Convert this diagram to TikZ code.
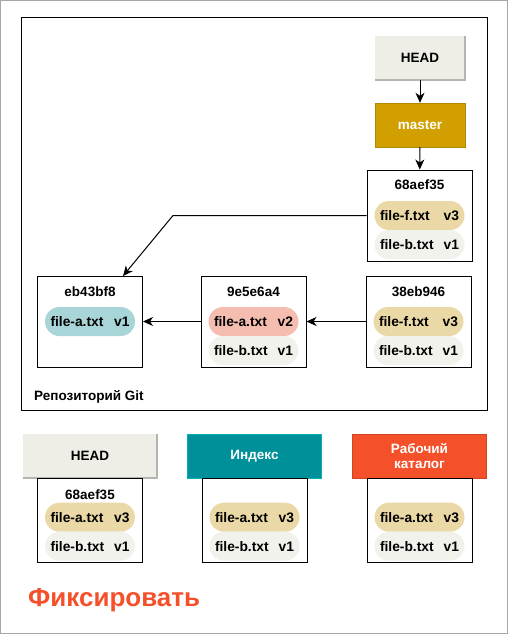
\documentclass[tikz,border=0pt]{standalone}
\usepackage{fontspec}
\setmainfont{Liberation Sans}
\usetikzlibrary{arrows.meta,calc}
\definecolor{headfill}{HTML}{EFEEE6}
\definecolor{masterfill}{HTML}{D1A000}
\definecolor{idxfill}{HTML}{00909A}
\definecolor{wdfill}{HTML}{F4502A}
\definecolor{tanpill}{HTML}{EAD9A6}
\definecolor{tealpill}{HTML}{A8D5D8}
\definecolor{salmonpill}{HTML}{F5BDB0}
\definecolor{lightpill}{HTML}{F2F2EC}
\definecolor{shadowgray}{HTML}{B5B5B0}
\tikzset{
  commitbox/.style={draw=black, line width=1pt, minimum width=105, minimum height=91, inner sep=0},
  bcommit/.style={draw=black, line width=1pt, minimum width=105, minimum height=84, inner sep=0},
  hashlbl/.style={font=\bfseries\fontsize{13.5}{15}\selectfont, inner sep=0},
  pill/.style={rounded corners=14.5, minimum width=90, minimum height=29, inner sep=0,
    font=\bfseries\fontsize{13.8}{15}\selectfont},
  hdr/.style={minimum width=90, minimum height=44, inner sep=0,
    font=\bfseries\fontsize{13.5}{16}\selectfont, align=center},
  bhdr/.style={minimum width=134, minimum height=44, inner sep=0,
    font=\bfseries\fontsize{13.5}{16}\selectfont, align=center},
  arr/.style={line width=1pt, -{Stealth[length=10pt,width=9pt,inset=3pt]}},
}
\newcommand{\pilltext}[2]{\makebox[79pt]{#1\hfill #2}}
\begin{document}
\begin{tikzpicture}[x=1pt,y=-1pt]
\useasboundingbox (0,0) rectangle (508,634);
\fill[white] (0,0) rectangle (508,634);
\draw[gray!70, line width=1pt] (0.5,0.5) rectangle (507.5,633.5);
% repository frame
\draw[black, line width=1pt] (21,18) rectangle (487,410);
\node[anchor=west, font=\bfseries\fontsize{13.5}{15}\selectfont, inner sep=0] (repolbl) at (34,397) {Репозиторий Git};

% HEAD and master
\node[hdr, fill=headfill] (head) at (420,58) {HEAD};
\draw[shadowgray, line width=1.5pt] (head.north east) -- (head.south east) -- (head.south west);
\node[hdr, fill=masterfill, draw=masterfill!85!black, text=white] (master) at (420,125) {master};

% commits
\node[commitbox] (c68) at (419.5,215.5) {};
\node[hashlbl] (c68h) at ($(c68.north)+(0,15)$) {68aef35};
\node[pill, fill=tanpill] (c68p1) at ($(c68.north)+(0,46)$) {\pilltext{file-f.txt}{v3}};
\node[pill, fill=lightpill] (c68p2) at ($(c68.north)+(0,75)$) {\pilltext{file-b.txt}{v1}};

\node[commitbox] (eb4) at (90,321.5) {};
\node[hashlbl] (eb4h) at ($(eb4.north)+(0,16)$) {eb43bf8};
\node[pill, fill=tealpill] (eb4p1) at ($(eb4.north)+(0,46)$) {\pilltext{file-a.txt}{v1}};

\node[commitbox] (c9e) at (253.5,321.5) {};
\node[hashlbl] (c9eh) at ($(c9e.north)+(0,16)$) {9e5e6a4};
\node[pill, fill=salmonpill] (c9ep1) at ($(c9e.north)+(0,46)$) {\pilltext{file-a.txt}{v2}};
\node[pill, fill=lightpill] (c9ep2) at ($(c9e.north)+(0,75)$) {\pilltext{file-b.txt}{v1}};

\node[commitbox] (c38) at (418.5,321.5) {};
\node[hashlbl] (c38h) at ($(c38.north)+(0,16)$) {38eb946};
\node[pill, fill=tanpill] (c38p1) at ($(c38.north)+(0,46)$) {\pilltext{file-f.txt}{v3}};
\node[pill, fill=lightpill] (c38p2) at ($(c38.north)+(0,75)$) {\pilltext{file-b.txt}{v1}};

% connectors
\draw[arr] (head) -- (master);
\draw[arr] (master) -- (c68);
\draw[arr] (c38) -- (c9e);
\draw[arr] (c9e) -- (eb4);
\coordinate (bend) at (173,215.5);
\coordinate (eb4tip) at (123,276);
\draw[arr] (c68.west) -- (bend) -- (eb4tip);

% bottom: three trees
\node[bhdr, fill=headfill] (bhead) at (90,456) {HEAD};
\draw[shadowgray, line width=1.5pt] (bhead.north east) -- (bhead.south east) -- (bhead.south west);
\node[bhdr, fill=idxfill, draw=idxfill!70!cyan, text=white] (bidx) at (254.5,456) {Индекс};
\node[bhdr, fill=wdfill, draw=wdfill!85!black, text=white] (bwd) at (419.5,456) {Рабочий\\[-1.5pt]каталог};

\node[bcommit, anchor=north] (hc) at (bhead.south) {};
\node[hashlbl] (hch) at ($(hc.north)+(0,16)$) {68aef35};
\node[pill, fill=tanpill] (hcp1) at ($(hc.north)+(0,39)$) {\pilltext{file-a.txt}{v3}};
\node[pill, fill=lightpill] (hcp2) at ($(hc.north)+(0,68)$) {\pilltext{file-b.txt}{v1}};

\node[bcommit, anchor=north] (ic) at (bidx.south) {};
\node[pill, fill=tanpill] (icp1) at ($(ic.north)+(0,39)$) {\pilltext{file-a.txt}{v3}};
\node[pill, fill=lightpill] (icp2) at ($(ic.north)+(0,68)$) {\pilltext{file-b.txt}{v1}};

\node[bcommit, anchor=north] (wc) at (bwd.south) {};
\node[pill, fill=tanpill] (wcp1) at ($(wc.north)+(0,39)$) {\pilltext{file-a.txt}{v3}};
\node[pill, fill=lightpill] (wcp2) at ($(wc.north)+(0,68)$) {\pilltext{file-b.txt}{v1}};

\node[anchor=west, text=wdfill, font=\bfseries\fontsize{26}{28}\selectfont, inner sep=0] (title) at (28,600) {Фиксировать};
\end{tikzpicture}
\end{document}
